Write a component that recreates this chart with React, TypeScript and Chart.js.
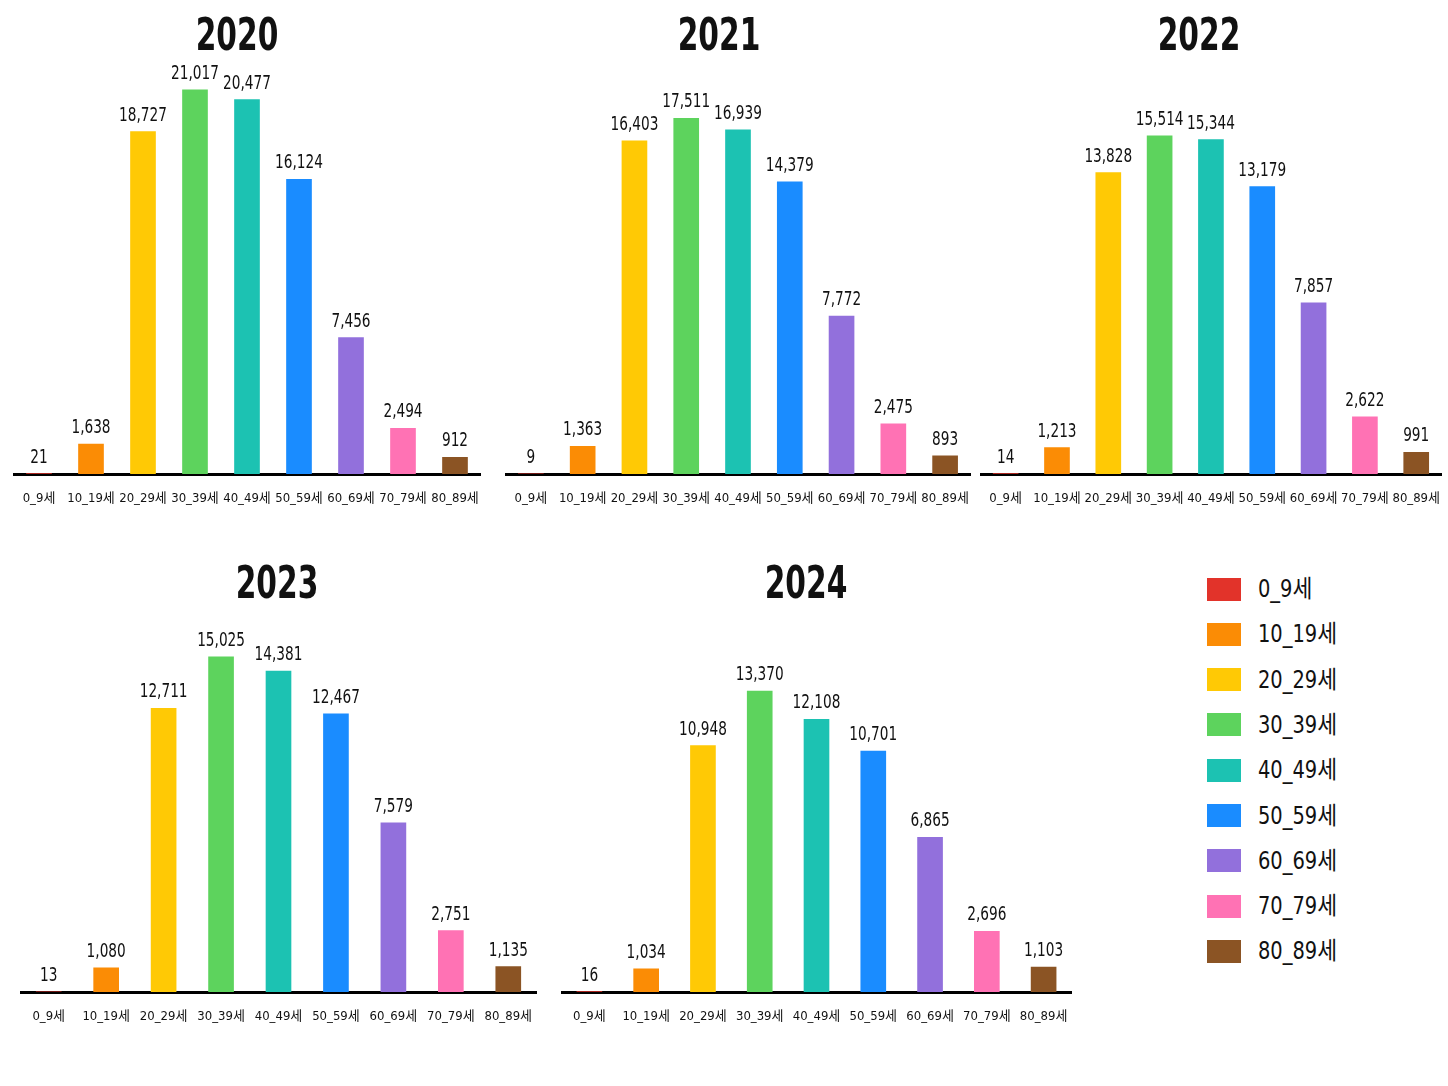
import { useEffect, useRef } from "react";
import { Chart, registerables } from "chart.js";

Chart.register(...registerables);

const FONT = "'Liberation Sans Narrow', 'DejaVu Sans Condensed', 'Noto Sans CJK KR', sans-serif";

// age groups and their bar colours
const AGE_GROUPS = ["0_9세", "10_19세", "20_29세", "30_39세", "40_49세", "50_59세", "60_69세", "70_79세", "80_89세"];
const COLORS = ["#e2332a", "#fb8c05", "#ffc905", "#5dd35d", "#1cc2b2", "#1a8cff", "#9270dc", "#ff72b4", "#8b5424"];

// values per year
const VALUES_2020 = [21, 1638, 18727, 21017, 20477, 16124, 7456, 2494, 912];
const VALUES_2021 = [9, 1363, 16403, 17511, 16939, 14379, 7772, 2475, 893];
const VALUES_2022 = [14, 1213, 13828, 15514, 15344, 13179, 7857, 2622, 991];
const VALUES_2023 = [13, 1080, 12711, 15025, 14381, 12467, 7579, 2751, 1135];
const VALUES_2024 = [16, 1034, 10948, 13370, 12108, 10701, 6865, 2696, 1103];

// y-axis maximum of each panel
const Y_MAX = [22000, 19800, 18450, 16700, 16550];

// draws the value above each bar (squeezed a bit to look like a narrow face)
const valueLabels = {
  id: "valueLabels",
  afterDatasetsDraw(chart: any) {
    const { ctx } = chart;
    const meta = chart.getDatasetMeta(0);
    const data = chart.data.datasets[0].data as number[];
    ctx.save();
    ctx.font = `19px ${FONT}`;
    ctx.fillStyle = "#111";
    ctx.textAlign = "center";
    ctx.textBaseline = "alphabetic";
    meta.data.forEach((el: any, i: number) => {
      ctx.save();
      ctx.translate(el.x, el.y - 11);
      ctx.scale(0.8, 1);
      ctx.fillText(data[i].toLocaleString("en-US"), 0, 0);
      ctx.restore();
    });
    ctx.restore();
  },
};

interface PanelProps {
  year: string;
  values: number[];
  yMax: number;
  left: number;
  top: number;
  width: number;
  height: number;
  plotTop: number;
  titleX: number;
  titleY: number;
}

function BarPanel({ year, values, yMax, left, top, width, height, plotTop, titleX, titleY }: PanelProps) {
  const canvasRef = useRef<HTMLCanvasElement>(null);

  useEffect(() => {
    if (!canvasRef.current) return;
    const chart = new Chart(canvasRef.current, {
      type: "bar",
      data: {
        labels: AGE_GROUPS,
        datasets: [
          {
            data: values,
            backgroundColor: COLORS,
            borderWidth: 0,
            barThickness: 25,
            categoryPercentage: 1,
          },
        ],
      },
      options: {
        responsive: false,
        animation: false,
        events: [],
        layout: { padding: { top: plotTop, left: 0, right: 0, bottom: 15.4 } },
        scales: {
          x: {
            // tick marks are hidden, their length only pushes the labels down
            grid: { display: false, drawTicks: true, tickLength: 15 },
            border: { display: true, color: "#000", width: 3 },
            ticks: {
              color: "#111",
              font: { family: FONT, size: 13 },
              padding: 2,
              maxRotation: 0,
              autoSkip: false,
            },
          },
          y: {
            display: false,
            min: 0,
            max: yMax,
          },
        },
        plugins: {
          legend: { display: false },
          tooltip: { enabled: false },
        },
      },
      plugins: [valueLabels],
    });
    return () => chart.destroy();
  }, [values, yMax, plotTop]);

  return (
    <>
      <canvas
        ref={canvasRef}
        width={width}
        height={height}
        style={{ position: "absolute", left, top, width, height }}
      />
      <div
        style={{
          position: "absolute",
          left: titleX,
          top: titleY,
          transform: "translate(-50%, -50%) scaleX(0.75)",
          fontSize: 44,
          fontWeight: "bold",
          lineHeight: 1,
          color: "#111",
          whiteSpace: "nowrap",
        }}
      >
        {year}
      </div>
    </>
  );
}

export default function App() {
  return (
    <div
      style={{
        position: "absolute",
        left: 0,
        top: 0,
        width: 1448,
        height: 1086,
        background: "#fff",
        overflow: "hidden",
        fontFamily: FONT,
      }}
    >
      <BarPanel year="2020" values={VALUES_2020} yMax={Y_MAX[0]} left={13} top={0} width={468} height={524} plotTop={71.8} titleX={237} titleY={35} />
      <BarPanel year="2021" values={VALUES_2021} yMax={Y_MAX[1]} left={505} top={0} width={466} height={524} plotTop={71.8} titleX={719} titleY={35} />
      <BarPanel year="2022" values={VALUES_2022} yMax={Y_MAX[2]} left={980} top={0} width={462} height={524} plotTop={71.8} titleX={1199} titleY={35} />
      <BarPanel year="2023" values={VALUES_2023} yMax={Y_MAX[3]} left={20} top={540} width={517} height={502} plotTop={79.4} titleX={277} titleY={583} />
      <BarPanel year="2024" values={VALUES_2024} yMax={Y_MAX[4]} left={561} top={540} width={511} height={502} plotTop={79.4} titleX={806} titleY={583} />

      {AGE_GROUPS.map((label, i) => (
        <div
          key={label}
          style={{
            position: "absolute",
            left: 1207,
            top: 589 + i * 45.3 - 14,
            height: 28,
            display: "flex",
            alignItems: "center",
          }}
        >
          <div style={{ width: 34, height: 23, background: COLORS[i] }} />
          <span
            style={{
              marginLeft: 17,
              fontSize: 24,
              color: "#111",
              lineHeight: "28px",
              display: "inline-block",
              transform: "scaleX(0.9)",
              transformOrigin: "left center",
              whiteSpace: "nowrap",
            }}
          >
            {label}
          </span>
        </div>
      ))}
    </div>
  );
}
